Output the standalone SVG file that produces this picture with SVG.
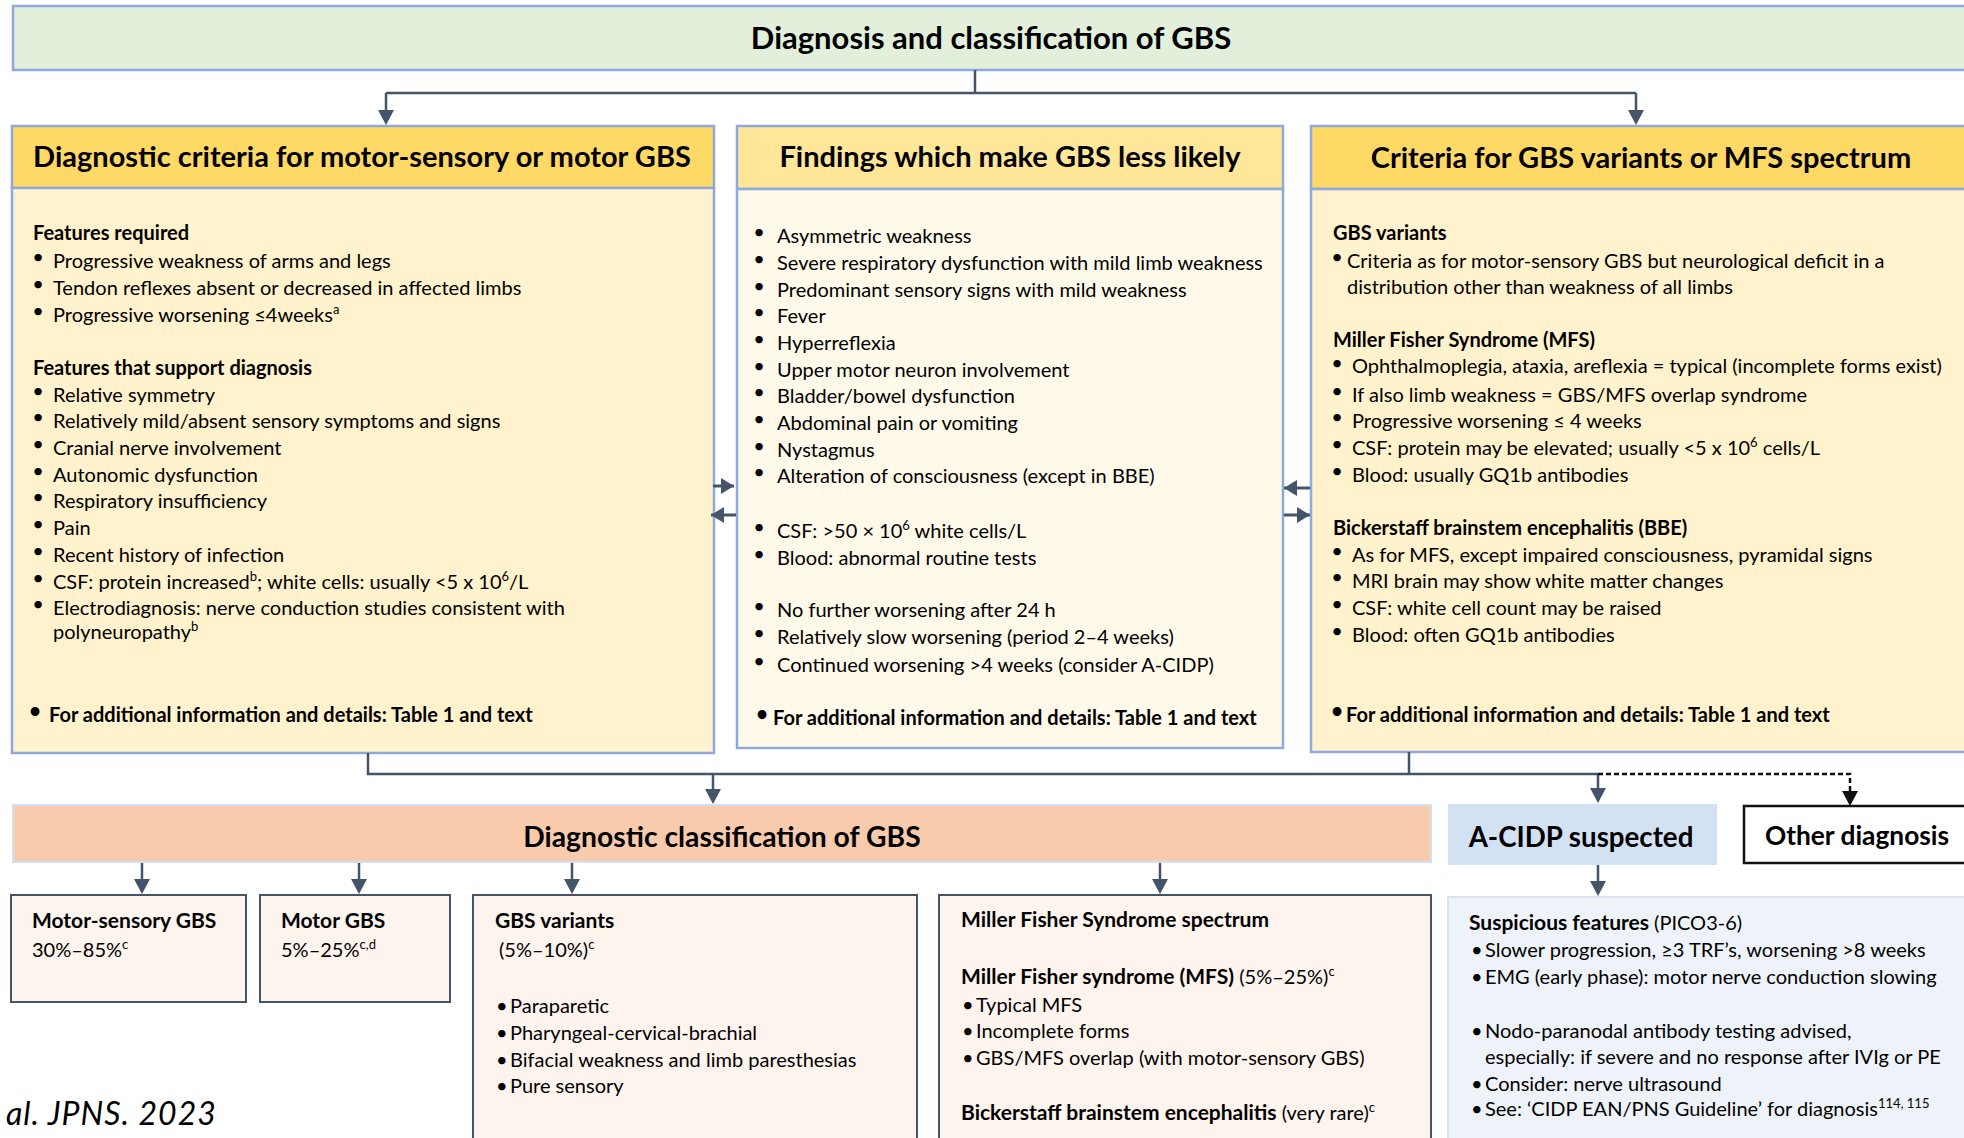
<svg xmlns="http://www.w3.org/2000/svg" width="1964" height="1138" viewBox="0 0 1964 1138">
<style>
text{font-family:Lato,'Liberation Sans',sans-serif;font-size:20px;fill:#000}
.b{font-weight:700}
.bb{font-weight:700;font-size:21px}
.h{font-size:29px;font-weight:700;text-anchor:middle}
.bu{text-anchor:middle}
.sup{font-size:13px;baseline-shift:super}
.blue{stroke:#8EA9DB;stroke-width:2.5}
.dk{stroke:#44546A;stroke-width:2}
</style>
<defs>
<marker id="arr" viewBox="0 0 15 16" refX="12" refY="8" markerWidth="15" markerHeight="16" markerUnits="userSpaceOnUse" orient="auto"><path d="M0,0 L15,8 L0,16 z" fill="#44546A"/></marker>
<marker id="arrK" viewBox="0 0 15 16" refX="12" refY="8" markerWidth="15" markerHeight="16" markerUnits="userSpaceOnUse" orient="auto"><path d="M0,0 L15,8 L0,16 z" fill="#111"/></marker>
<marker id="blk" viewBox="0 0 13 16" refX="13" refY="8" markerWidth="13" markerHeight="16" markerUnits="userSpaceOnUse" orient="auto"><path d="M0,0 L13,8 L0,16 z" fill="#44546A"/></marker>
</defs>
<rect width="1964" height="1138" fill="#fff"/>

<g id="title">
<rect x="13" y="6" width="1962" height="64" fill="#E2EFDA" class="blue"/>
<text class="h" x="991" y="49" style="font-size:31px">Diagnosis and classification of GBS</text>
</g>

<g id="criteria-motor">
<rect x="12" y="126" width="702" height="62" fill="#FFD966" class="blue"/>
<rect x="12" y="188" width="702" height="565" fill="#FFF2CC" class="blue"/>
<text class="h" x="362" y="167">Diagnostic criteria for motor-sensory or motor GBS</text>
<text class="b" x="33" y="240">Features required</text>
<text class="bu" x="38" y="264">•</text><text x="53" y="268">Progressive weakness of arms and legs</text>
<text class="bu" x="38" y="291">•</text><text x="53" y="295">Tendon reflexes absent or decreased in affected limbs</text>
<text class="bu" x="38" y="318">•</text><text x="53" y="322">Progressive worsening ≤4weeks<tspan class="sup">a</tspan></text>
<text class="b" x="33" y="375">Features that support diagnosis</text>
<text class="bu" x="38" y="398">•</text><text x="53" y="402">Relative symmetry</text>
<text class="bu" x="38" y="424">•</text><text x="53" y="428">Relatively mild/absent sensory symptoms and signs</text>
<text class="bu" x="38" y="451">•</text><text x="53" y="455">Cranial nerve involvement</text>
<text class="bu" x="38" y="478">•</text><text x="53" y="482">Autonomic dysfunction</text>
<text class="bu" x="38" y="504">•</text><text x="53" y="508">Respiratory insufficiency</text>
<text class="bu" x="38" y="531">•</text><text x="53" y="535">Pain</text>
<text class="bu" x="38" y="558">•</text><text x="53" y="562">Recent history of infection</text>
<text class="bu" x="38" y="585">•</text><text x="53" y="589">CSF: protein increased<tspan class="sup">b</tspan>; white cells: usually &lt;5 x 10<tspan class="sup">6</tspan>/L</text>
<text class="bu" x="38" y="611">•</text><text x="53" y="615">Electrodiagnosis: nerve conduction studies consistent with</text>
<text x="53" y="639">polyneuropathy<tspan class="sup">b</tspan></text>
<text class="bu b" x="35" y="718">•</text><text class="b" x="49" y="722">For additional information and details: Table 1 and text</text>
</g>

<g id="less-likely">
<rect x="737" y="126" width="546" height="63" fill="#FFE699" class="blue"/>
<rect x="737" y="189" width="546" height="559" fill="#FFF9EA" class="blue"/>
<text class="h" x="1010" y="167">Findings which make GBS less likely</text>
<text class="bu" x="759" y="239">•</text><text x="777" y="243">Asymmetric weakness</text>
<text class="bu" x="759" y="266">•</text><text x="777" y="270">Severe respiratory dysfunction with mild limb weakness</text>
<text class="bu" x="759" y="293">•</text><text x="777" y="297">Predominant sensory signs with mild weakness</text>
<text class="bu" x="759" y="319">•</text><text x="777" y="323">Fever</text>
<text class="bu" x="759" y="346">•</text><text x="777" y="350">Hyperreflexia</text>
<text class="bu" x="759" y="373">•</text><text x="777" y="377">Upper motor neuron involvement</text>
<text class="bu" x="759" y="399">•</text><text x="777" y="403">Bladder/bowel dysfunction</text>
<text class="bu" x="759" y="426">•</text><text x="777" y="430">Abdominal pain or vomiting</text>
<text class="bu" x="759" y="453">•</text><text x="777" y="457">Nystagmus</text>
<text class="bu" x="759" y="479">•</text><text x="777" y="483">Alteration of consciousness (except in BBE)</text>
<text class="bu" x="759" y="534">•</text><text x="777" y="538">CSF: &gt;50 × 10<tspan class="sup">6</tspan> white cells/L</text>
<text class="bu" x="759" y="561">•</text><text x="777" y="565">Blood: abnormal routine tests</text>
<text class="bu" x="759" y="613">•</text><text x="777" y="617">No further worsening after 24 h</text>
<text class="bu" x="759" y="640">•</text><text x="777" y="644">Relatively slow worsening (period 2–4 weeks)</text>
<text class="bu" x="759" y="668">•</text><text x="777" y="672">Continued worsening &gt;4 weeks (consider A-CIDP)</text>
<text class="bu b" x="762" y="721">•</text><text class="b" x="773" y="725">For additional information and details: Table 1 and text</text>
</g>

<g id="criteria-variants">
<rect x="1311" y="126" width="664" height="63" fill="#FFD966" class="blue"/>
<rect x="1311" y="189" width="664" height="563" fill="#FFF2CC" class="blue"/>
<text class="h" x="1641" y="168">Criteria for GBS variants or MFS spectrum</text>
<text class="b" x="1333" y="240">GBS variants</text>
<text class="bu" x="1337" y="264">•</text><text x="1347" y="268">Criteria as for motor-sensory GBS but neurological deficit in a</text>
<text x="1347" y="294">distribution other than weakness of all limbs</text>
<text class="b" x="1333" y="347">Miller Fisher Syndrome (MFS)</text>
<text class="bu" x="1337" y="370">•</text><text x="1352" y="373">Ophthalmoplegia, ataxia, areflexia = typical (incomplete forms exist)</text>
<text class="bu" x="1337" y="398">•</text><text x="1352" y="402">If also limb weakness = GBS/MFS overlap syndrome</text>
<text class="bu" x="1337" y="424">•</text><text x="1352" y="428">Progressive worsening ≤ 4 weeks</text>
<text class="bu" x="1337" y="451">•</text><text x="1352" y="455">CSF: protein may be elevated; usually &lt;5 x 10<tspan class="sup">6</tspan> cells/L</text>
<text class="bu" x="1337" y="478">•</text><text x="1352" y="482">Blood: usually GQ1b antibodies</text>
<text class="b" x="1333" y="535">Bickerstaff brainstem encephalitis (BBE)</text>
<text class="bu" x="1337" y="558">•</text><text x="1352" y="562">As for MFS, except impaired consciousness, pyramidal signs</text>
<text class="bu" x="1337" y="584">•</text><text x="1352" y="588">MRI brain may show white matter changes</text>
<text class="bu" x="1337" y="611">•</text><text x="1352" y="615">CSF: white cell count may be raised</text>
<text class="bu" x="1337" y="638">•</text><text x="1352" y="642">Blood: often GQ1b antibodies</text>
<text class="bu b" x="1337" y="718">•</text><text class="b" x="1346" y="722">For additional information and details: Table 1 and text</text>
</g>

<g id="classification">
<rect x="13" y="805" width="1418" height="57" fill="#F8CBAD" stroke="#D5DEEC" stroke-width="2"/>
<text class="h" x="722" y="847" style="font-size:28.3px">Diagnostic classification of GBS</text>
</g>

<g id="acidp">
<rect x="1448" y="804" width="269" height="61" fill="#D3E2F3"/>
<text class="h" x="1581" y="847" style="font-size:27.7px">A-CIDP suspected</text>
</g>

<g id="other">
<rect x="1744" y="806" width="231" height="57" fill="#fff" stroke="#111" stroke-width="2.5"/>
<text class="h" x="1857" y="845" style="font-size:26.3px">Other diagnosis</text>
</g>

<g id="motor-sensory">
<rect x="11" y="895" width="235" height="107" fill="#FDF4EE" class="dk"/>
<text class="bb" x="32" y="928">Motor-sensory GBS</text>
<text x="32" y="957">30%–85%<tspan class="sup">c</tspan></text>
</g>

<g id="motor">
<rect x="260" y="895" width="190" height="107" fill="#FDF4EE" class="dk"/>
<text class="bb" x="281" y="928">Motor GBS</text>
<text x="281" y="957">5%–25%<tspan class="sup">c,d</tspan></text>
</g>

<g id="variants">
<rect x="473" y="895" width="444" height="260" fill="#FDF4EE" class="dk"/>
<text class="bb" x="495" y="928">GBS variants</text>
<text x="499" y="957">(5%–10%)<tspan class="sup">c</tspan></text>
<text x="496" y="1013">•</text><text x="510" y="1013">Paraparetic</text>
<text x="496" y="1040">•</text><text x="510" y="1040">Pharyngeal-cervical-brachial</text>
<text x="496" y="1067">•</text><text x="510" y="1067">Bifacial weakness and limb paresthesias</text>
<text x="496" y="1093">•</text><text x="510" y="1093">Pure sensory</text>
</g>

<g id="mfs">
<rect x="939" y="895" width="492" height="260" fill="#FDF4EE" class="dk"/>
<text class="bb" x="961" y="927">Miller Fisher Syndrome spectrum</text>
<text x="961" y="984"><tspan class="bb">Miller Fisher syndrome (MFS)</tspan> (5%–25%)<tspan class="sup">c</tspan></text>
<text x="962" y="1012">•</text><text x="976" y="1012">Typical MFS</text>
<text x="962" y="1038">•</text><text x="976" y="1038">Incomplete forms</text>
<text x="962" y="1065">•</text><text x="976" y="1065">GBS/MFS overlap (with motor-sensory GBS)</text>
<text x="961" y="1120"><tspan class="bb">Bickerstaff brainstem encephalitis</tspan> (very rare)<tspan class="sup">c</tspan></text>
</g>

<g id="suspicious">
<rect x="1448" y="897" width="527" height="260" fill="#EEF3F9" stroke="#D9E2EE" stroke-width="2"/>
<text x="1469" y="930"><tspan class="bb">Suspicious features</tspan> (PICO3-6)</text>
<text x="1471" y="957">•</text><text x="1485" y="957">Slower progression, ≥3 TRF’s, worsening &gt;8 weeks</text>
<text x="1471" y="984">•</text><text x="1485" y="984">EMG (early phase): motor nerve conduction slowing</text>
<text x="1471" y="1038">•</text><text x="1485" y="1038">Nodo-paranodal antibody testing advised,</text>
<text x="1485" y="1064">especially: if severe and no response after IVIg or PE</text>
<text x="1471" y="1091">•</text><text x="1485" y="1091">Consider: nerve ultrasound</text>
<text x="1471" y="1116">•</text><text x="1485" y="1116">See: ‘CIDP EAN/PNS Guideline’ for diagnosis<tspan class="sup">114, 115</tspan></text>
</g>

<g id="connectors" fill="none" stroke="#44546A" stroke-width="2.5">
<path d="M975,70 V93 M386,93 H1636"/>
<path d="M386,93 V122" marker-end="url(#arr)"/>
<path d="M1636,93 V122" marker-end="url(#arr)"/>
<path d="M368,753 V774 H1598 M1409,752 V774"/>
<path d="M713,774 V801" marker-end="url(#arr)"/>
<path d="M1598,774 V800" marker-end="url(#arr)"/>
<path d="M1598,774 H1850 V803" stroke="#111" stroke-dasharray="5 3" marker-end="url(#arrK)"/>
<path d="M142,863 V891" marker-end="url(#arr)"/>
<path d="M359,863 V891" marker-end="url(#arr)"/>
<path d="M572,863 V891" marker-end="url(#arr)"/>
<path d="M1160,863 V891" marker-end="url(#arr)"/>
<path d="M1598,865 V893" marker-end="url(#arr)"/>
<path d="M713,486 H734" stroke-width="3" marker-end="url(#blk)"/>
<path d="M736,515 H711" stroke-width="3" marker-end="url(#blk)"/>
<path d="M1310,488 H1284" stroke-width="3" marker-end="url(#blk)"/>
<path d="M1284,515 H1310" stroke-width="3" marker-end="url(#blk)"/>
</g>

<text x="6" y="1125" style="font-size:32px;font-style:italic;letter-spacing:1px">al. JPNS. 2023</text>
</svg>
